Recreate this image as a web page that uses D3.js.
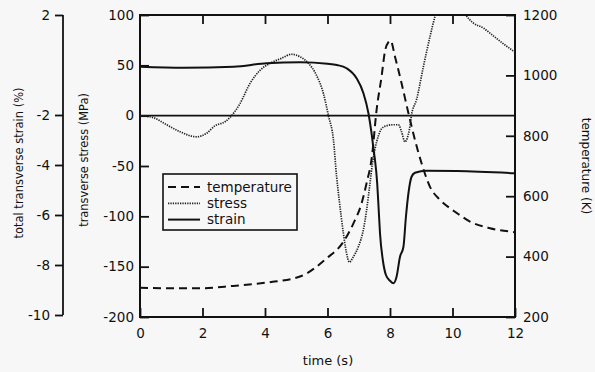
<!DOCTYPE html>
<html><head><meta charset="utf-8">
<script src="https://cdn.jsdelivr.net/npm/d3@7"></script>
<style>
html,body{margin:0;padding:0;background:#f7f7f7;}
svg{display:block;}
text{font-family:"DejaVu Sans",sans-serif;fill:#111;}
</style></head>
<body><svg id="c" width="595" height="372"></svg>
<script>
const timeTicks = [0,2,4,6,8,10,12];
const stressTicks = [100,50,0,-50,-100,-150,-200];
const strainTicks = [2,-2,-4,-6,-8,-10];
const tempTicks = [1200,1000,800,600,400,200];

const tempTime = [0,1,1.92,2.98,4.05,5.12,5.97,6.51,6.83,7.09,7.25,7.42,7.57,7.73,7.84,7.95,8.02,8.16,8.37,8.59,8.8,9.01,9.28,9.6,9.92,10.13,10.56,11.2,12];
const tempValues = [297,295,295,303,314,334,394,449,510,576,643,730,885,996,1080,1110,1115,1062,974,875,786,709,631,588,560,545,516,494,481];

const stressTime = [0,0.43,0.85,1.28,1.81,2.13,2.4,2.72,2.93,3.2,3.52,3.84,4.16,4.53,4.85,5.12,5.39,5.65,5.87,6.03,6.19,6.29,6.38,6.5,6.6,6.7,6.83,6.99,7.15,7.25,7.36,7.44,7.52,7.63,7.73,7.89,8.11,8.27,8.37,8.48,8.55,8.62,8.69,8.85,9.07,9.28,9.44,9.6,9.8,10.0,10.2,10.43,10.67,10.99,11.2,11.52,12];
const stressValues = [0,-2,-9,-16,-21,-17.5,-10,-6,0,12,32,45,52,57,61,58.5,52,40,22,0,-24,-60,-85,-115,-135,-145.5,-140,-130,-113,-94,-67,-47,-33,-20,-13,-10,-9,-9,-16,-26,-22.5,-14,1,16,49,78.5,98.5,112,120,122,114,100,92,87,82,74,63];

const strainTime = [0,1.39,3.0,4.05,5.12,6.0,6.3,6.61,6.93,7.15,7.31,7.41,7.49,7.52,7.59,7.63,7.68,7.77,7.87,8.0,8.11,8.21,8.32,8.43,8.51,8.59,8.69,8.8,9.17,10.13,12];
const strainValues = [-0.07,-0.11,-0.07,0.07,0.11,0.05,0,-0.13,-0.53,-1.13,-1.93,-2.73,-3.53,-3.8,-4.73,-5.6,-6.73,-7.8,-8.4,-8.63,-8.73,-8.47,-7.67,-7.27,-6.07,-5.13,-4.47,-4.31,-4.23,-4.24,-4.33];

const legendLabels = ["temperature","stress","strain"];

const svg = d3.select("#c");
const L = 140, R = 515, T = 15, B = 317;
const x = d3.scaleLinear().domain([0,12]).range([L,R]);
const yS = d3.scaleLinear().domain([-200,100]).range([B,T]);
const yT = d3.scaleLinear().domain([200,1200]).range([B,T]);
const yE = d3.scaleLinear().domain([-10,2]).range([315,15]);
const fmt = d => String(d);

svg.append("clipPath").attr("id","clip").append("rect")
  .attr("x",L).attr("y",T).attr("width",R-L).attr("height",B-T);

function styleAxis(g){
  g.select(".domain").remove();
  g.selectAll(".tick line").attr("stroke","#111").attr("stroke-width",1.8);
  g.selectAll(".tick text").attr("font-size","13.5px").attr("fill","#111")
    .style("font-family","'DejaVu Sans',sans-serif");
}

svg.append("g").attr("transform",`translate(${L},0)`)
  .call(d3.axisLeft(yS).tickValues(stressTicks).tickFormat(fmt).tickSizeInner(-9).tickSizeOuter(0).tickPadding(6))
  .call(styleAxis);
svg.append("g").attr("transform",`translate(${R},0)`)
  .call(d3.axisRight(yT).tickValues(tempTicks).tickFormat(fmt).tickSizeInner(-9).tickSizeOuter(0).tickPadding(8))
  .call(styleAxis);
svg.append("g").attr("transform",`translate(0,${B})`)
  .call(d3.axisBottom(x).tickValues(timeTicks).tickFormat(fmt).tickSizeInner(-9).tickSizeOuter(0).tickPadding(11))
  .call(styleAxis);
svg.append("g").attr("transform",`translate(0,${T})`)
  .call(d3.axisTop(x).tickValues(timeTicks.slice(1,-1)).tickFormat("").tickSizeInner(-9).tickSizeOuter(0))
  .call(styleAxis);
const gE = svg.append("g").attr("transform","translate(63,0)")
  .call(d3.axisLeft(yE).tickValues(strainTicks).tickFormat(fmt).tickSizeInner(8).tickSizeOuter(0).tickPadding(5))
  .call(styleAxis);
gE.append("line").attr("x1",0).attr("x2",0).attr("y1",yE(2)).attr("y2",yE(-10))
  .attr("stroke","#111").attr("stroke-width",1.8);

svg.append("rect").attr("x",L).attr("y",T).attr("width",R-L).attr("height",B-T)
  .attr("fill","none").attr("stroke","#111").attr("stroke-width",2);

svg.append("line").attr("x1",x(0)).attr("x2",x(12)).attr("y1",yS(0)).attr("y2",yS(0))
  .attr("stroke","#111").attr("stroke-width",1.6);

const plot = svg.append("g").attr("clip-path","url(#clip)");
const curve = d3.curveMonotoneX;

plot.append("path")
  .attr("d", d3.line().x((d,i)=>x(tempTime[i])).y(d=>yT(d)).curve(curve)(tempValues))
  .attr("fill","none").attr("stroke","#111").attr("stroke-width",2).attr("stroke-dasharray","8,5");
plot.append("path")
  .attr("d", d3.line().x((d,i)=>x(stressTime[i])).y(d=>yS(d)).curve(curve)(stressValues))
  .attr("fill","none").attr("stroke","#222").attr("stroke-width",1.7).attr("stroke-dasharray","1.3,1.1");
plot.append("path")
  .attr("d", d3.line().x((d,i)=>x(strainTime[i])).y(d=>yE(d)).curve(curve)(strainValues))
  .attr("fill","none").attr("stroke","#111").attr("stroke-width",2);

const lg = svg.append("g");
lg.append("rect").attr("x",163).attr("y",174).attr("width",134).attr("height",56)
  .attr("fill","#f7f7f7").attr("stroke","#111").attr("stroke-width",1.6);
const dashes = ["8,5","1.3,1.1",null];
const widths = [2,1.7,2];
legendLabels.forEach((lab,i)=>{
  const yy = 187 + i*16.3;
  const ln = lg.append("line").attr("x1",168).attr("x2",200).attr("y1",yy).attr("y2",yy)
    .attr("stroke", i===1?"#222":"#111").attr("stroke-width",widths[i]);
  if (dashes[i]) ln.attr("stroke-dasharray",dashes[i]);
  lg.append("text").attr("x",207).attr("y",yy+4.5).attr("font-size","13.5px").text(lab);
});

svg.append("text").attr("transform","translate(23,163) rotate(-90)").attr("text-anchor","middle")
  .attr("font-size","11.5px").text("total transverse strain (%)");
svg.append("text").attr("transform","translate(88,160) rotate(-90)").attr("text-anchor","middle")
  .attr("font-size","11.4px").text("transverse stress (MPa)");
svg.append("text").attr("transform","translate(582,166) rotate(90)").attr("text-anchor","middle")
  .attr("font-size","12px").text("temperature (K)");
svg.append("text").attr("x",328).attr("y",365).attr("text-anchor","middle")
  .attr("font-size","13px").text("time (s)");
</script></body></html>
